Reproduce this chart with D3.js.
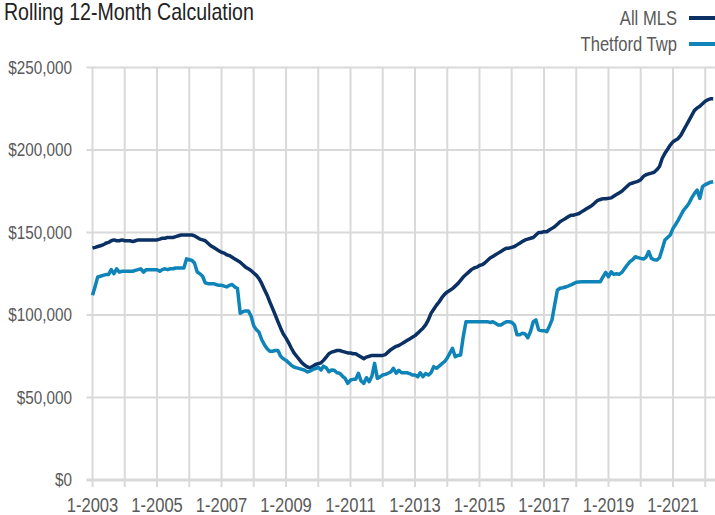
<!DOCTYPE html>
<html>
<head>
<meta charset="utf-8">
<script src="https://cdn.jsdelivr.net/npm/d3@7"></script>
<style>
  body { margin: 0; background: #fff; }
  svg text { font-family: "Liberation Sans", Arial, sans-serif; }
</style>
</head>
<body>
<div id="container"></div>
<script>
// ==================== data ==================== //

const startYear = 2003;
const startMonth = 0; // January
const seriesNames = ["All MLS", "Thetford Twp"];
const seriesColors = ["#0b3064", "#0e84b8"];
const yTicks = [0, 50000, 100000, 150000, 200000, 250000];
const xLabelYears = [2003, 2005, 2007, 2009, 2011, 2013, 2015, 2017, 2019, 2021];

// monthly rolling 12-month values, in thousands, Jan 2003 .. Apr 2022
const allMls = [
  140.5, 141, 141.5, 142, 142.5, 143.5, 144, 145, 145.5, 145, 145, 145.5,
  145, 145, 145, 144.5, 145, 145.5, 145.5, 145.5, 145.5, 145.5, 145.5, 145.5,
  145.5, 146, 146.5, 146.5, 147, 147, 147, 147.5, 148, 148.5, 148.5, 148.5,
  148.5, 148.5, 148, 147, 146, 145.5, 145, 143.5, 142, 141, 140, 139,
  138, 137.5, 136.5, 136, 135, 134, 133, 132, 130.5, 129, 128, 127,
  125.5, 124, 122, 119, 115.5, 112, 108, 104, 100, 96, 92, 88.5,
  86, 83, 80, 77, 75, 73, 71, 69.5, 68.5, 68, 69, 70,
  70.5, 71, 72.5, 74.5, 76.5, 77.5, 78, 78.5, 78.5, 78, 77.5, 77,
  77, 76.5, 76.5, 75.5, 74.5, 73.5, 74.5, 75, 75.5, 75.5, 75.5, 75.5,
  75.5, 76, 77.5, 79, 80, 81, 81.5, 82.5, 83.5, 84.5, 85.5, 86.5,
  87.5, 89, 90.5, 92, 94, 97, 101, 103.5, 106, 108, 110.5, 112.5,
  114, 115, 116, 117.5, 119, 121, 123, 124.5, 126, 127.5, 128.5, 129,
  130, 130.5, 131.5, 133, 134.5, 135.5, 136.5, 137.5, 138.5, 139.5, 140.5, 140.5,
  141, 141.5, 142.5, 143.5, 144.5, 145.5, 146, 146.5, 147, 148.5, 150, 150,
  150.5, 150.5, 151.5, 152.5, 153.5, 155, 156.5, 157.5, 158.5, 159.5, 160.5, 160.5,
  161, 161.5, 162.5, 163.5, 164.5, 165.5, 166.5, 168, 169.5, 170, 170.5, 170.5,
  170.7, 171, 172, 173, 174, 175, 176.5, 178, 179.5, 180, 180.5, 181,
  182, 184, 185, 185.5, 186, 186.5, 188, 190, 195, 198, 200.5, 203,
  205, 206, 207, 209, 212, 215, 218, 221, 224, 225.5, 226.5, 228,
  229.5, 230.5, 231, 231
];

const thetford = [
  112, 117.5, 123, 123.5, 124, 124.5, 124.5, 127.5, 125, 128, 126, 126.5,
  126.5, 126.5, 126.5, 126.5, 127, 127.5, 128, 126, 127.5, 127.5, 127.5, 127.5,
  127.5, 126.5, 127.5, 128, 127.5, 128, 128, 128.5, 128.5, 128.5, 128.5, 134,
  133.5, 133, 131.5, 126, 125, 123.5, 119.5, 119, 119, 119, 118.5, 118,
  118, 117.5, 117, 118, 118.5, 117, 116, 101, 102, 102.5, 102.5, 99.5,
  93.5, 91, 89.5, 85, 82, 79.5, 78, 78, 78.5, 78.5, 75, 73.5,
  72.5, 71, 69.5, 68.5, 68, 67.5, 67, 66.5, 65.5, 66, 67, 67.5,
  68.3, 66.7, 69, 68, 65.6, 66.7, 66.5, 65, 64.7, 63, 61.6, 58.6,
  60.6, 61, 61, 64.7, 60, 58.6, 62, 59.6, 63, 70.7, 61.6, 62.5,
  63.6, 64, 64.7, 65.5, 67.7, 64.7, 66.5, 65, 65, 65, 64.5, 63.6,
  63.6, 62.6, 65, 62.6, 64.5, 63.6, 65, 68.7, 67.7, 69, 70.5, 71.7,
  74, 77, 79.8, 74.7, 75.5, 75.8, 86.8, 95.9, 95.9, 95.9, 95.9, 95.9,
  95.9, 95.9, 95.9, 95.9, 95.5, 95.9, 95, 94, 93.9, 95, 95.9, 95.9,
  95.6, 94, 88, 88, 88.9, 88.5, 86.2, 90, 95.9, 97, 91, 90.5,
  90.5, 89.9, 93, 97, 106, 115, 116.2, 116.5, 117, 117.5, 118.2, 119,
  119.8, 120, 120.2, 120.2, 120.2, 120.2, 120.2, 120.2, 120.2, 120.2, 123.2, 125.8,
  123.2, 126.2, 124.6, 125, 124.6, 125.8, 128, 130.3, 132.3, 133.5, 135.3, 134.8,
  134.3, 133.9, 135, 138.4, 134.3, 133.5, 133.3, 134.7, 140, 145.4, 147, 148.5,
  152.5, 155, 157.5, 160.6, 163.6, 165.5, 167.7, 171, 173.7, 175.7, 170.7, 177.8,
  179, 179.8, 180.5, 180.8
];

// ==================== chart ==================== //

const width = 715;
const height = 515;
const margin = { top: 67.5, right: 1.5, bottom: 35, left: 92.5 };
// no narrow face installed, so text is squeezed horizontally
const narrow = 0.85;

const monthDate = i => new Date(startYear, startMonth + i, 1);

const svg = d3.select("#container")
  .append("svg")
  .attr("width", width)
  .attr("height", height);

// 32.25 px per year
const x = d3.scaleTime()
  .domain([new Date(startYear, 0, 1), new Date(2022, 0, 1)])
  .range([margin.left, margin.left + 19 * 32.25]);

const y = d3.scaleLinear()
  .domain([0, 250000])
  .range([height - margin.bottom, margin.top]);

const gridColor = "#d9d9d9";
const yearTicks = d3.range(startYear, 2023).map(yr => new Date(yr, 0, 1));

function narrowText(sel, tx, ty, k = narrow) {
  return sel.attr("transform", (d, i) => `translate(${tx(d, i)},${ty(d, i)}) scale(${k},1)`);
}

// vertical gridlines (every year) with short ticks below the baseline
svg.append("g")
  .selectAll("line")
  .data(yearTicks)
  .join("line")
  .attr("x1", d => x(d))
  .attr("x2", d => x(d))
  .attr("y1", y(250000))
  .attr("y2", y(0) + 7)
  .attr("stroke", gridColor)
  .attr("stroke-width", 2);

// horizontal gridlines
svg.append("g")
  .selectAll("line")
  .data(yTicks)
  .join("line")
  .attr("x1", margin.left - 6)
  .attr("x2", width)
  .attr("y1", d => y(d))
  .attr("y2", d => y(d))
  .attr("stroke", gridColor)
  .attr("stroke-width", d => d === 0 ? 3 : 2);

// y labels
svg.append("g")
  .selectAll("text")
  .data(yTicks)
  .join("text")
  .call(narrowText, () => 72, d => y(d))
  .attr("dy", "0.35em")
  .attr("text-anchor", "end")
  .attr("font-size", 18)
  .attr("fill", "#595959")
  .text(d => d3.format("$,")(d));

// x labels
svg.append("g")
  .selectAll("text")
  .data(xLabelYears)
  .join("text")
  .call(narrowText, d => x(new Date(d, 0, 1)), () => y(0) + 25)
  .attr("dy", "0.35em")
  .attr("text-anchor", "middle")
  .attr("font-size", 19.5)
  .attr("fill", "#595959")
  .text(d => "1-" + d);

// lines
const line = d3.line()
  .x((d, i) => x(monthDate(i)))
  .y(d => y(d * 1000));

[allMls, thetford].forEach((series, k) => {
  svg.append("path")
    .datum(series)
    .attr("d", line)
    .attr("fill", "none")
    .attr("stroke", seriesColors[k])
    .attr("stroke-width", 3.5)
    .attr("stroke-linejoin", "round");
});

// title
svg.append("text")
  .datum("Rolling 12-Month Calculation")
  .call(narrowText, () => 4, () => 20)
  .attr("font-size", 23)
  .attr("fill", "#222")
  .text(d => d);

// legend
const legend = svg.append("g")
  .selectAll("g")
  .data(seriesNames)
  .join("g")
  .attr("transform", (d, i) => `translate(0, ${18 + i * 26})`);

legend.append("text")
  .call(narrowText, () => 677, () => 0, 0.83)
  .attr("dy", "0.35em")
  .attr("text-anchor", "end")
  .attr("font-size", 20)
  .attr("fill", "#595959")
  .text(d => d);

legend.append("line")
  .attr("x1", 689)
  .attr("x2", 715)
  .attr("stroke", (d, i) => seriesColors[i])
  .attr("stroke-width", 4);
</script>
</body>
</html>
